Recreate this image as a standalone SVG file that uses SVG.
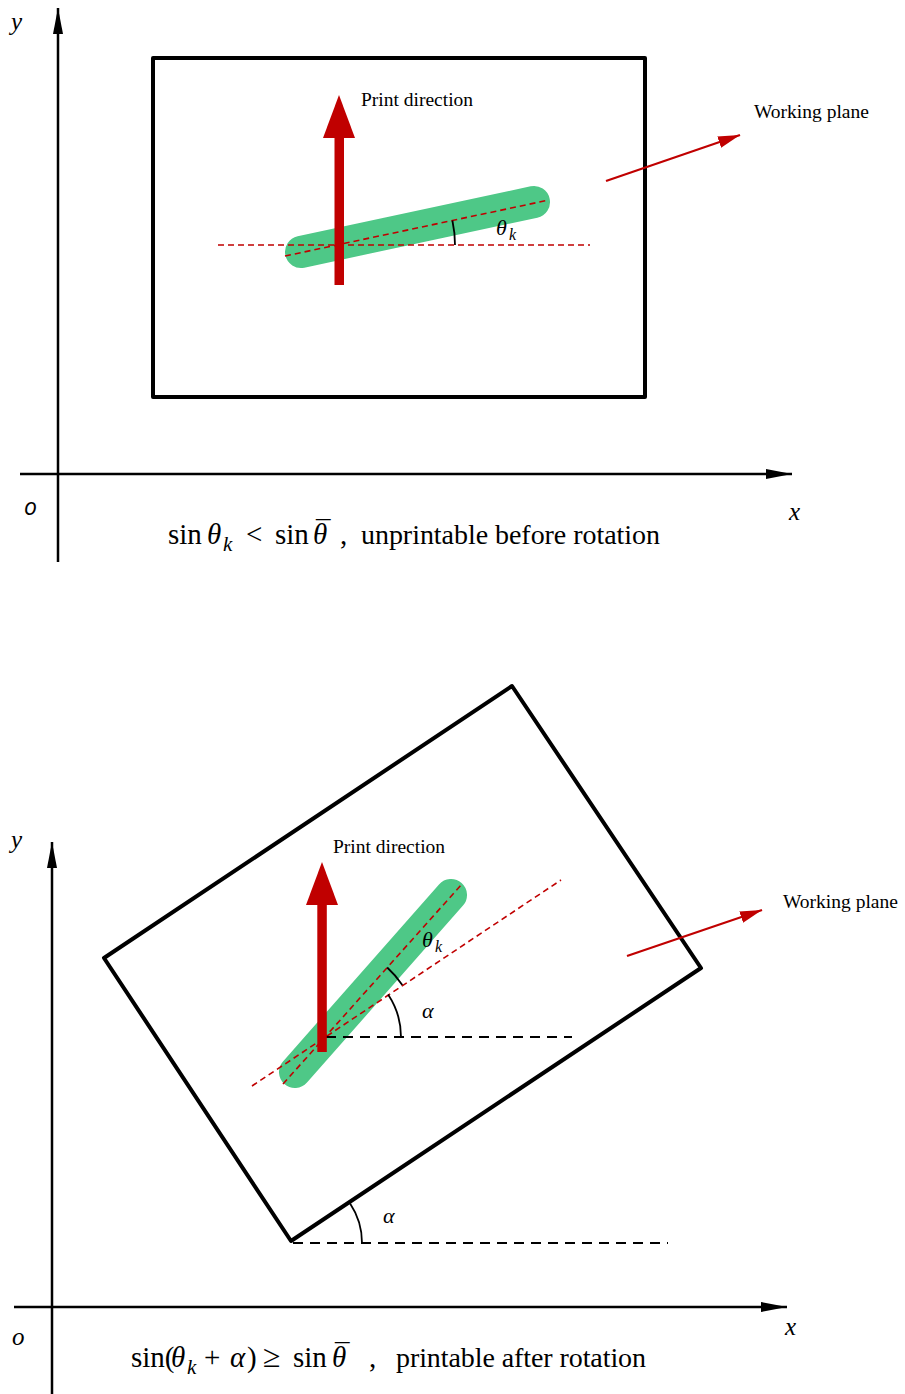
<svg xmlns="http://www.w3.org/2000/svg" width="905" height="1394" viewBox="0 0 905 1394">
<style>
.ax{stroke:#000;stroke-width:2.5;fill:none}
.frame{stroke:#000;stroke-width:4;fill:none;stroke-linejoin:round}
.bar{stroke:#4ec887;stroke-width:32;stroke-linecap:round;fill:none}
.rd{stroke:#c00000;stroke-width:1.6;stroke-dasharray:6 4;fill:none}
.bd{stroke:#000;stroke-width:2;stroke-dasharray:10 7;fill:none}
.arc{stroke:#000;stroke-width:1.8;fill:none}
.wp{stroke:#c00000;stroke-width:2.2;fill:none}
.pd{fill:#c00000}
.lbl{font-family:"Liberation Serif",serif;font-size:19.5px;fill:#000}
.cap{font-family:"Liberation Serif",serif;font-size:29px;fill:#000}
.mi{font-family:"Liberation Serif",serif;font-style:italic;fill:#000}
.tx{font-size:28px}
</style>
<defs>
<marker id="axh" markerUnits="userSpaceOnUse" markerWidth="28" markerHeight="12" refX="26" refY="5" orient="auto" viewBox="0 0 28 10">
<path d="M0,0 L26,5 L0,10 z" fill="#000"/>
</marker>
<marker id="wph" markerUnits="userSpaceOnUse" markerWidth="24" markerHeight="14" refX="22" refY="6" orient="auto" viewBox="0 0 24 12">
<path d="M0,0 L22,6 L0,12 z" fill="#c00000"/>
</marker>
</defs>

<!-- ===== Top diagram ===== -->
<g id="top-axes">
<line class="ax" x1="58" y1="562" x2="58" y2="8" marker-end="url(#axh)"/>
<line class="ax" x1="20" y1="474" x2="792" y2="474" marker-end="url(#axh)"/>
<text class="mi" x="11" y="30" font-size="25">y</text>
<text x="24" y="515" font-family="'Open Sans',sans-serif" font-style="italic" font-size="23">o</text>
<text class="mi" x="789" y="520" font-size="25">x</text>
</g>
<g id="top-frame">
<rect class="frame" x="153" y="58" width="492" height="339"/>
</g>
<g id="top-bar">
<line class="bar" x1="301" y1="252" x2="534" y2="202"/>
</g>
<g id="top-guides">
<line class="rd" x1="218" y1="245" x2="590" y2="245"/>
<line class="rd" x1="285" y1="256" x2="549" y2="200"/>
<path class="arc" d="M452.4,220.5 A118,118 0 0 1 455,245"/>
<text class="mi" font-size="22"><tspan x="496" y="235">θ</tspan><tspan x="509" y="240" font-size="16">k</tspan></text>
</g>
<g id="top-print">
<rect class="pd" x="334.5" y="136" width="9.5" height="149"/>
<polygon class="pd" points="323,138 355,138 339,95"/>
<text class="lbl" x="361" y="106">Print direction</text>
</g>
<g id="top-working-plane">
<line class="wp" x1="606" y1="181" x2="740" y2="135" marker-end="url(#wph)"/>
<text class="lbl" x="754" y="118">Working plane</text>
</g>
<g id="top-caption" class="cap">
<text x="168" y="544">sin</text>
<text class="mi"><tspan x="207" y="544">θ</tspan><tspan x="223" y="551" font-size="21">k</tspan></text>
<text x="246" y="544">&lt;</text>
<text x="275" y="544">sin</text>
<text><tspan class="mi" x="313" y="544">θ</tspan><tspan x="316" y="541">¯</tspan></text>
<text x="340" y="544">,</text>
<text class="tx" x="361" y="544" textLength="299" lengthAdjust="spacing">unprintable before rotation</text>
</g>

<!-- ===== Bottom diagram ===== -->
<g id="bottom-axes">
<line class="ax" x1="52" y1="1394" x2="52" y2="842" marker-end="url(#axh)"/>
<line class="ax" x1="14" y1="1307" x2="787" y2="1307" marker-end="url(#axh)"/>
<text class="mi" x="11" y="848" font-size="25">y</text>
<text class="mi" x="12" y="1345" font-size="25">o</text>
<text class="mi" x="785" y="1335" font-size="25">x</text>
</g>
<g id="bottom-frame">
<polygon class="frame" points="104,958 512,686 701,968 291,1241"/>
<line class="bd" x1="293" y1="1243" x2="668" y2="1243"/>
<path class="arc" d="M350.1,1203.6 A71,71 0 0 1 362,1243"/>
<text class="mi" x="383" y="1223" font-size="22">α</text>
</g>
<g id="bottom-bar">
<line class="bar" x1="295" y1="1072" x2="451" y2="895"/>
</g>
<g id="bottom-guides">
<line class="rd" x1="283" y1="1084" x2="462" y2="884"/>
<line class="rd" x1="252" y1="1086" x2="561" y2="880"/>
<line class="bd" x1="326" y1="1037" x2="572" y2="1037"/>
<path class="arc" d="M388.1,994.4 A77,77 0 0 1 401,1037"/>
<path class="arc" d="M387.2,967.5 A94,94 0 0 1 402.3,985"/>
<text class="mi" font-size="22"><tspan x="422" y="947">θ</tspan><tspan x="435" y="952" font-size="16">k</tspan></text>
<text class="mi" x="422" y="1018" font-size="22">α</text>
</g>
<g id="bottom-print">
<rect class="pd" x="317.3" y="903" width="9.5" height="149"/>
<polygon class="pd" points="306,905 338,905 322,862"/>
<text class="lbl" x="333" y="853">Print direction</text>
</g>
<g id="bottom-working-plane">
<line class="wp" x1="627" y1="956" x2="762" y2="910" marker-end="url(#wph)"/>
<text class="lbl" x="783" y="908">Working plane</text>
</g>
<g id="bottom-caption" class="cap">
<text><tspan x="131" y="1367">sin(</tspan><tspan class="mi" x="171" y="1367">θ</tspan><tspan class="mi" x="187" y="1374" font-size="21">k</tspan></text>
<text x="204" y="1367">+</text>
<text class="mi" x="230" y="1367">α</text>
<text x="247" y="1367">)</text>
<text x="263" y="1367" font-size="32">≥</text>
<text x="293" y="1367">sin</text>
<text><tspan class="mi" x="332" y="1367">θ</tspan><tspan x="335" y="1364">¯</tspan></text>
<text x="369" y="1367">,</text>
<text class="tx" x="396" y="1367" textLength="250" lengthAdjust="spacing">printable after rotation</text>
</g>
</svg>
